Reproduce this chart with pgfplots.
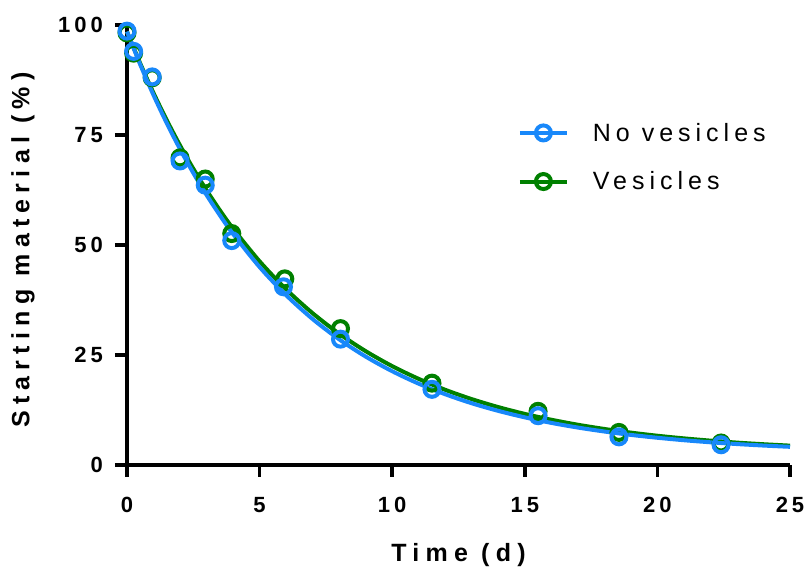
\documentclass[border=0pt]{standalone}
\usepackage{fontspec}
\usepackage{pgfplots}
\pgfplotsset{compat=1.18}
\setmainfont{Liberation Sans}
\newfontfamily\labelfont{Liberation Sans}[LetterSpace=25]
\newfontfamily\tickfont{Liberation Sans}[LetterSpace=18]
\newfontfamily\legendfont{Liberation Sans}[LetterSpace=20]
\definecolor{novcol}{RGB}{24,136,250}
\definecolor{vescol}{RGB}{0,128,0}

\begin{document}
\begin{tikzpicture}
\path[use as bounding box] (-127pt,-107pt) rectangle (683pt,465pt);
\begin{axis}[
  scale only axis, width=663pt, height=440pt,
  xmin=0, xmax=25, ymin=0, ymax=100,
  clip=false,
  axis lines*=left,
  axis line style={line width=3.5pt, black, -},
  xtick={0,5,...,25}, ytick={0,25,...,100},
  tick align=outside, major tick length=12pt,
  tick style={line width=3.5pt, black},
  /pgf/number format/assume math mode=true,
  tick label style={font=\fontsize{22}{24}\selectfont\tickfont\bfseries, inner sep=0pt},
  xticklabel shift=20pt, yticklabel shift=12pt,
  xlabel={Time (d)}, ylabel={Starting material (\%)},
  label style={font=\fontsize{25}{28}\selectfont\labelfont\bfseries},
  xlabel style={at={(axis description cs:0.5,0)}, anchor=base, yshift=-96pt, inner sep=0pt},
  ylabel style={at={(axis description cs:0,0.5)}, anchor=center, yshift=104pt, xshift=-5pt, inner sep=0pt},
  legend image code/.code={
    \draw[#1, mark=none] (0pt,0pt) -- (47pt,0pt);
    \draw[#1] plot coordinates {(23.5pt,0pt)};
  },
  legend cell align=left,
  legend style={draw=none, fill=none, inner sep=0pt, outer sep=0pt,
    at={(axis cs:14.74,77.7)}, anchor=north west,
    row sep=29pt, column sep=24pt,
    font=\fontsize{25}{28}\selectfont\legendfont,
    nodes={inner sep=0pt}},
  every axis plot/.append style={line width=4pt},
]
\addlegendimage{novcol, line width=4pt, mark=o, mark size=7.5pt}
\addlegendentry{No vesicles}
\addlegendimage{vescol, line width=4pt, mark=o, mark size=7.5pt}
\addlegendentry{Vesicles}

% fitted one-phase decay, Vesicles
\addplot[vescol, smooth, forget plot] coordinates {
 (0,98.50) (0.5,91.25) (1,84.55) (1.5,78.36) (2,72.63) (2.5,67.34)
 (3,62.44) (3.5,57.91) (4,53.73) (5,46.29) (6,39.93) (7,34.49)
 (8,29.84) (9,25.87) (10,22.47) (11,19.57) (12,17.09) (13,14.97)
 (14,13.16) (15,11.61) (16,10.29) (17,9.15) (18,8.19) (19,7.36)
 (20,6.65) (21,6.05) (22,5.54) (23,5.09) (24,4.72) (25,4.40)
};
% measured points, Vesicles
\addplot[vescol, only marks, mark=o, mark size=7.5pt, forget plot] coordinates {
 (0,98.2) (0.25,93.6) (0.95,88.0) (2.0,69.8) (2.95,65.0) (3.95,52.6)
 (5.95,42.3) (8.05,31.0) (11.5,18.6) (15.5,12.2) (18.55,7.4) (22.4,5.0)
};

% fitted one-phase decay, No vesicles
\addplot[novcol, smooth, forget plot] coordinates {
 (0,98.50) (0.5,90.99) (1,84.06) (1.5,77.68) (2,71.79) (2.5,66.37)
 (3,61.37) (3.5,56.77) (4,52.52) (5,44.99) (6,38.60) (7,33.17)
 (8,28.56) (9,24.64) (10,21.31) (11,18.48) (12,16.08) (13,14.03)
 (14,12.30) (15,10.83) (16,9.57) (17,8.51) (18,7.61) (19,6.84)
 (20,6.19) (21,5.63) (22,5.16) (23,4.76) (24,4.42) (25,4.13)
};
% measured points, No vesicles
\addplot[novcol, only marks, mark=o, mark size=7.5pt, forget plot] coordinates {
 (0,98.6) (0.25,94.0) (0.95,88.2) (2.0,69.1) (2.95,63.6) (3.95,51.0)
 (5.9,40.5) (8.05,28.6) (11.5,17.2) (15.5,11.2) (18.55,6.4) (22.4,4.6)
};
\end{axis}
\end{tikzpicture}
\end{document}
